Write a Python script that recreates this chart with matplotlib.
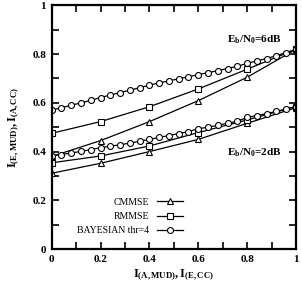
import numpy as np
import matplotlib
matplotlib.use('Agg')
import matplotlib.pyplot as plt
from matplotlib.ticker import MultipleLocator

plt.rcParams['font.family'] = 'Liberation Serif'
plt.rcParams['mathtext.fontset'] = 'custom'
plt.rcParams['mathtext.rm'] = 'Liberation Serif'
plt.rcParams['mathtext.bf'] = 'Liberation Serif:bold'
plt.rcParams['mathtext.it'] = 'Liberation Serif:italic'

# coarse grid for CMMSE / RMMSE
x_coarse = [0.0, 0.2, 0.4, 0.6, 0.8, 1.0]
cmmse_6db = [0.380, 0.445, 0.523, 0.609, 0.705, 0.820]
rmmse_6db = [0.475, 0.523, 0.584, 0.657, 0.738, 0.820]
cmmse_2db = [0.311, 0.352, 0.400, 0.450, 0.516, 0.580]
rmmse_2db = [0.354, 0.382, 0.423, 0.478, 0.530, 0.585]

# fine grid for bayesian
x_fine = [0.00, 0.04, 0.08, 0.12, 0.16, 0.20, 0.24, 0.28, 0.32, 0.36, 0.40, 0.44, 0.48,
          0.52, 0.56, 0.60, 0.64, 0.68, 0.72, 0.76, 0.80, 0.84, 0.88, 0.92, 0.96, 1.00]
bayes_6db = [0.570, 0.580, 0.590, 0.600, 0.610, 0.622, 0.632, 0.642, 0.652, 0.662, 0.673, 0.682, 0.690,
             0.699, 0.707, 0.716, 0.724, 0.732, 0.741, 0.750, 0.762, 0.772, 0.782, 0.794, 0.806, 0.820]
bayes_2db = [0.383, 0.388, 0.394, 0.401, 0.408, 0.416, 0.422, 0.428, 0.435, 0.442, 0.450, 0.458, 0.466,
             0.474, 0.482, 0.494, 0.500, 0.508, 0.516, 0.525, 0.540, 0.548, 0.556, 0.565, 0.575, 0.585]

fig = plt.figure(figsize=(3.02, 2.84), dpi=100)
ax = fig.add_axes([0.171, 0.123, 0.809, 0.858])

mk = dict(color='black', lw=0.9, markersize=4.3, markerfacecolor='white', markeredgewidth=0.8)

ax.plot(x_coarse, cmmse_6db, marker='^', label='CMMSE', **mk)
ax.plot(x_coarse, rmmse_6db, marker='s', label='RMMSE', **mk)
ax.plot(x_fine, bayes_6db, marker='o', label='BAYESIAN thr=4', **mk)
ax.plot(x_coarse, cmmse_2db, marker='^', **mk)
ax.plot(x_coarse, rmmse_2db, marker='s', **mk)
ax.plot(x_fine, bayes_2db, marker='o', **mk)

ax.set_xlim(0, 1)
ax.set_ylim(0, 1)
ax.xaxis.set_major_locator(MultipleLocator(0.2))
ax.yaxis.set_major_locator(MultipleLocator(0.2))
ax.xaxis.set_minor_locator(MultipleLocator(0.1))
ax.yaxis.set_minor_locator(MultipleLocator(0.1))
ax.tick_params(which='both', direction='in', top=True, right=True, length=5, width=1.2)
ax.tick_params(axis='both', labelsize=8, pad=4)
for lab in ax.get_xticklabels() + ax.get_yticklabels():
    lab.set_fontweight('bold')
ax.xaxis.set_major_formatter(plt.FuncFormatter(lambda v, p: '%g' % v))
ax.yaxis.set_major_formatter(plt.FuncFormatter(lambda v, p: '%g' % v))
for s in ax.spines.values():
    s.set_linewidth(1.6)

ax.set_xlabel(r'$\mathbf{I_{(A,MUD)},I_{(E,CC)}}$', fontsize=9, labelpad=3)
ax.set_ylabel(r'$\mathbf{I_{(E,MUD)},I_{(A,CC)}}$', fontsize=9, labelpad=7)

ax.text(0.94, 0.858, r'$\mathbf{E_b/N_0}$=6dB', fontsize=8, fontweight='bold', ha='right', va='center')
ax.text(0.94, 0.394, r'$\mathbf{E_b/N_0}$=2dB', fontsize=8, fontweight='bold', ha='right', va='center')

ax.legend(loc='lower center', bbox_to_anchor=(0.32, 0.02), frameon=False, markerfirst=False,
          fontsize=7, handlelength=2.7, labelspacing=0.55, borderaxespad=0.5, handletextpad=0.8)

fig.savefig('out.png', dpi=100)
